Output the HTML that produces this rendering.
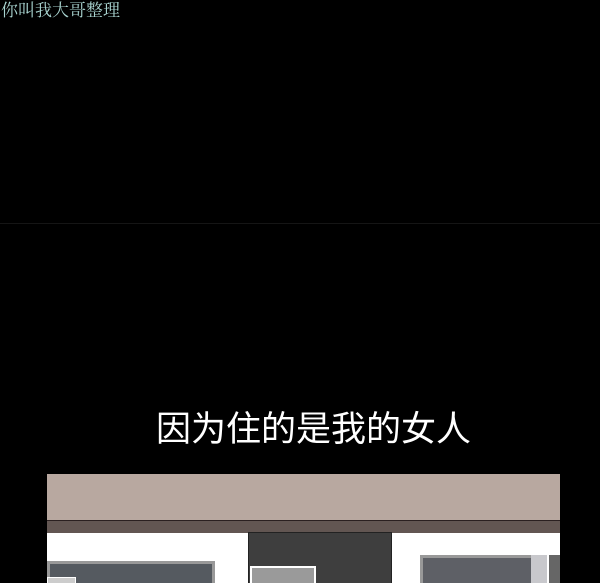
<!DOCTYPE html>
<html><head><meta charset="utf-8"><style>
body{margin:0;width:600px;height:583px;background:#000;overflow:hidden;position:relative;font-family:"Liberation Sans","Noto Sans CJK SC",sans-serif}
div{position:absolute}
</style></head><body>
<div style="left:1px;top:1px;color:#a9d4d0;font-family:'Liberation Serif','Noto Serif CJK SC',serif;font-size:17px;line-height:20px">你叫我大哥整理</div>
<div style="left:0;top:223px;width:600px;height:1px;background:#151515"></div>
<div style="left:0;width:627px;top:408px;text-align:center;color:#fff;font-size:35px;line-height:44px">因为住的是我的女人</div>
<div style="left:47px;top:474px;width:513px;height:109px;background:#fff;overflow:hidden">
 <div style="left:0;top:0;width:513px;height:46px;background:#b8a8a0"></div>
 <div style="left:0;top:46px;width:513px;height:12px;background:#625652;border-top:1px solid #2a2020"></div>
 <div style="left:201px;top:58px;width:142px;height:60px;background:#3e3e3e;border:1px solid #222"></div>
 <div style="left:0;top:87px;width:162px;height:40px;background:#555a60;border:3px solid #999"></div>
 <div style="left:0;top:103px;width:27px;height:20px;background:#ccc;border:1px solid #fff"></div>
 <div style="left:203px;top:92px;width:62px;height:30px;background:#9a9a9a;border:2px solid #fff"></div>
 <div style="left:373px;top:81px;width:110px;height:40px;background:#5e6066;border:3px solid #999"></div>
 <div style="left:484px;top:81px;width:16px;height:40px;background:#c8c8cc"></div>
 <div style="left:502px;top:81px;width:11px;height:40px;background:#666"></div>
</div>
</body></html>
